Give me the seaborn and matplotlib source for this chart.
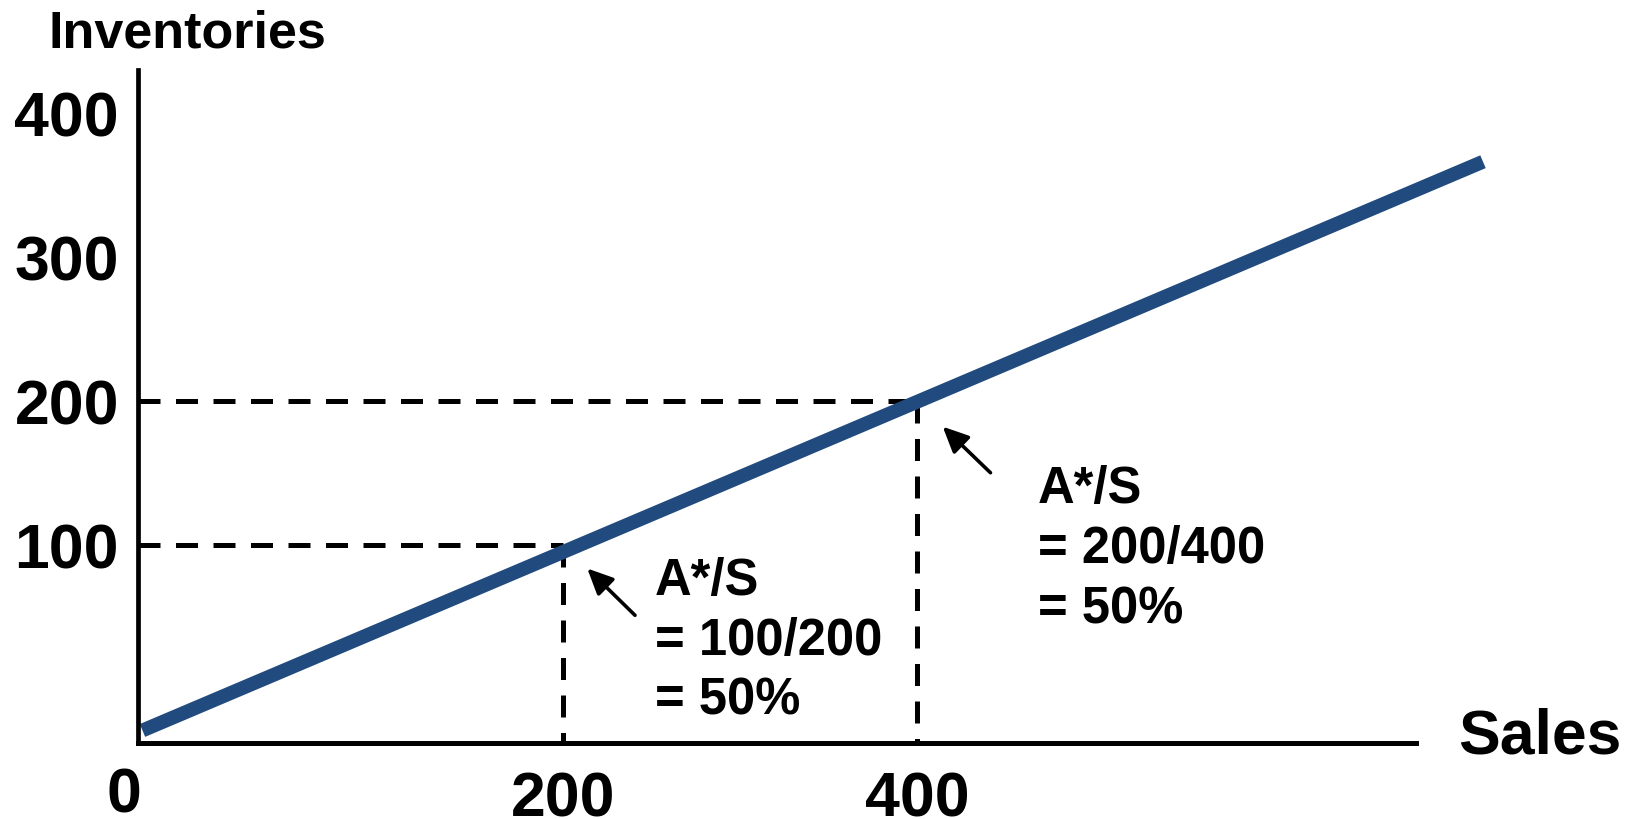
import matplotlib
matplotlib.use("Agg")
import matplotlib.pyplot as plt
import seaborn as sns
import pandas as pd

# Inventory line (sales -> inventories), straight schedule
line_sales = [-38, 720]
line_inventories = [-29, 366]

# Reference points marked with guides: (sales, inventories)
guide_sales = [200, 400]
guide_inventories = [100, 200]

x_ticks = [200, 400]
x_tick_labels = ["200", "400"]
y_ticks = [100, 200, 300, 400]
y_tick_labels = ["100", "200", "300", "400"]

ratio_labels = ["A*/S\n= 100/200\n= 50%", "A*/S\n= 200/400\n= 50%"]

# arrow head / tail and label anchor for each ratio note (data units)
arrow_heads = [(213.5, 83.5), (414.5, 182)]
arrow_tails = [(240.5, 51), (441.5, 150)]
note_anchors = [(251.7, 92.5), (468.2, 156)]

LINE_BLUE = "#214A7E"
DASH = (0, (4.4, 3.1))

sns.set_theme(style="white")
plt.rcParams["font.family"] = ["Liberation Sans", "DejaVu Sans"]
plt.rcParams["font.weight"] = "bold"

fig = plt.figure(figsize=(16.36, 8.2), dpi=100)
ax = fig.add_axes([0.0846, 0.0927, 0.7808, 0.8207])
ax.set_xlim(-40.3, 682)
ax.set_ylim(-37.7, 429.7)

df = pd.DataFrame({"Sales": line_sales, "Inventories": line_inventories})
sns.lineplot(data=df, x="Sales", y="Inventories", ax=ax, color=LINE_BLUE,
             linewidth=10, legend=False)
for ln in ax.lines:
    ln.set_clip_on(False)
    ln.set_solid_capstyle("butt")

# dashed guides to the two reference points
x_left, _ = ax.get_xlim()
y_bottom, _ = ax.get_ylim()
for gx, gy in zip(guide_sales, guide_inventories):
    ax.plot([x_left, gx], [gy, gy], color="black", lw=3.6, linestyle=DASH,
            dash_capstyle="butt", zorder=1)
    ax.plot([gx, gx], [gy, y_bottom], color="black", lw=3.6, linestyle=DASH,
            dash_capstyle="butt", zorder=1)

# ratio notes with arrows pointing at the line
for head, tail, anchor, txt in zip(arrow_heads, arrow_tails, note_anchors, ratio_labels):
    ax.annotate("", xy=head, xytext=tail,
                arrowprops=dict(arrowstyle="-|>,head_length=0.6,head_width=0.28",
                                color="black", lw=2.6, mutation_scale=26,
                                shrinkA=0, shrinkB=0))
    ax.text(anchor[0], anchor[1], txt, ha="left", va="top", fontsize=36.5,
            fontweight="bold", color="black", linespacing=1.29)

# axes styling
for side in ["top", "right"]:
    ax.spines[side].set_visible(False)
ax.spines["left"].set_linewidth(3.4)
ax.spines["bottom"].set_linewidth(3.6)
ax.spines["left"].set_color("black")
ax.spines["bottom"].set_color("black")

ax.set_xticks(x_ticks)
ax.set_xticklabels(x_tick_labels)
ax.set_yticks(y_ticks)
ax.set_yticklabels(y_tick_labels)
ax.tick_params(axis="both", length=0, labelsize=45, colors="black")
ax.tick_params(axis="x", pad=19)
ax.tick_params(axis="y", pad=14)
for lbl in ax.get_xticklabels() + ax.get_yticklabels():
    lbl.set_fontweight("bold")
ax.set_xlabel("")
ax.set_ylabel("")
ax.grid(False)

# origin label and axis titles
fig.text(124 / 1636, 1 - 813 / 820, "0", ha="center", va="baseline",
         fontsize=45, fontweight="bold", color="black")
fig.text(48 / 1636, 1 - 48 / 820, "Inventories", ha="left", va="baseline",
         fontsize=37.5, fontweight="bold", color="black")
fig.text(1458 / 1636, 1 - 754 / 820, "Sales", ha="left", va="baseline",
         fontsize=45, fontweight="bold", color="black")

fig.savefig("out.png", dpi=100, facecolor="white")
